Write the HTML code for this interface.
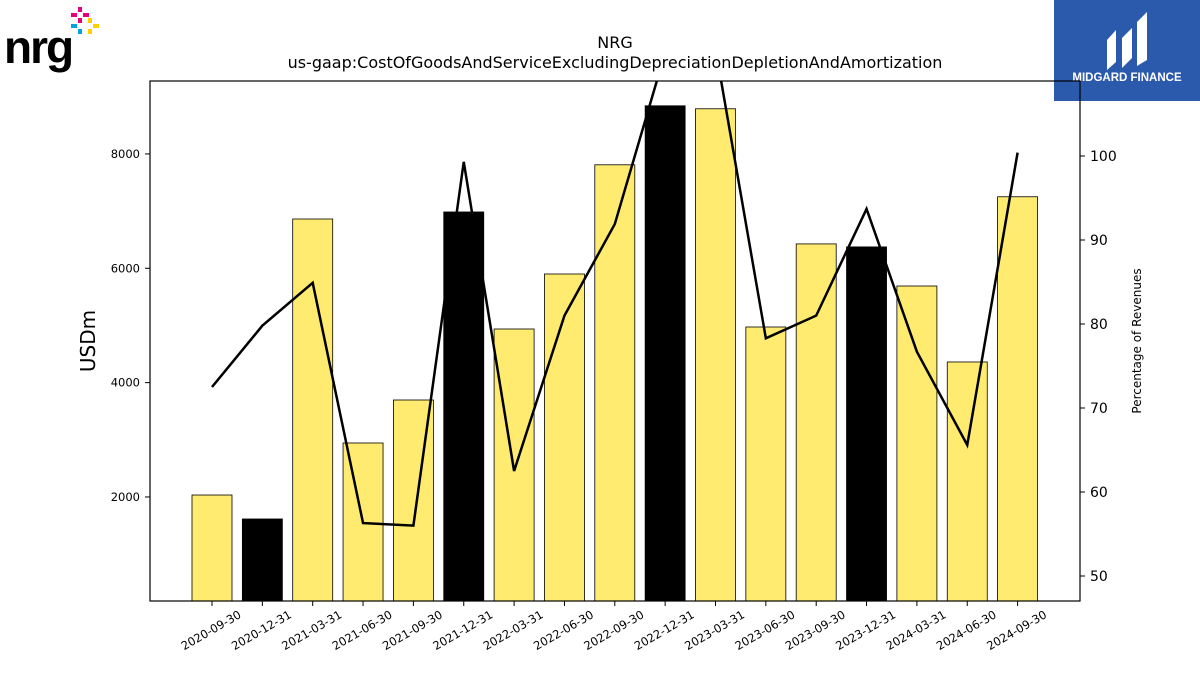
<!DOCTYPE html>
<html><head><meta charset="utf-8"><style>
body{margin:0;background:#fff;width:1200px;height:675px;overflow:hidden;font-family:"Liberation Sans","DejaVu Sans",sans-serif}
</style></head><body>
<svg id="chart" width="1200" height="675" xmlns="http://www.w3.org/2000/svg" font-family="DejaVu Sans, Liberation Sans, sans-serif">
<g>
<text x="4" y="63" font-size="46" font-weight="bold" fill="#000" font-family="Liberation Sans, sans-serif" letter-spacing="-2">nrg</text>
<rect x="78" y="7" width="4" height="5" fill="#e6007e"/><rect x="71" y="13" width="6" height="4" fill="#e6007e"/><rect x="83" y="13" width="6" height="4" fill="#e6007e"/>
<rect x="78" y="18" width="4" height="5" fill="#e6007e"/><rect x="71" y="24" width="6" height="4" fill="#00a3e0"/><rect x="78" y="29" width="4" height="5" fill="#00a3e0"/>
<rect x="88" y="18" width="4" height="5" fill="#ffd100"/><rect x="93" y="24" width="6" height="4" fill="#ffd100"/><rect x="88" y="29" width="4" height="5" fill="#ffd100"/>
</g>
<g>
<rect x="1054" y="0" width="146" height="101" fill="#2b5aad"/>
<path d="M1107 70 L1107 40 L1116 30 L1116 62 Z M1122 68 L1122 38 L1132 28 L1132 58 Z M1137 66 L1137 22 L1147 12 L1147 60 Z" fill="#fff"/>
<text x="1127" y="81" font-size="11.5" font-weight="bold" fill="#fff" text-anchor="middle" font-family="Liberation Sans, sans-serif">MIDGARD FINANCE</text>
</g>
<text x="615" y="48" font-size="16" text-anchor="middle">NRG</text>
<text x="615" y="68" font-size="16" text-anchor="middle">us-gaap:CostOfGoodsAndServiceExcludingDepreciationDepletionAndAmortization</text>
<g id="bars"></g><g id="xt"></g><g id="yl"></g><g id="yr"></g>
<defs><clipPath id="clip"><rect x="150" y="81" width="930" height="520"/></clipPath></defs>
<path id="line" fill="none" stroke="#000" stroke-width="2.5" clip-path="url(#clip)"/>
<rect x="150" y="81" width="930" height="520" fill="none" stroke="#000" stroke-width="1.2"/>
<text transform="translate(95,341) rotate(-90)" font-size="20" text-anchor="middle">USDm</text>
<text transform="translate(1141,341) rotate(-90)" font-size="12" text-anchor="middle">Percentage of Revenues</text>
</svg>
<script>
const categories=["2020-09-30","2020-12-31","2021-03-31","2021-06-30","2021-09-30","2021-12-31","2022-03-31","2022-06-30","2022-09-30","2022-12-31","2023-03-31","2023-06-30","2023-09-30","2023-12-31","2024-03-31","2024-06-30","2024-09-30"];
const costValues=[2034,1615,6862,2944,3696,6985,4938,5900,7810,8842,8790,4973,6426,6374,5690,4361,7251];
const pctValues=[72.5,79.8,84.9,56.3,56.0,99.3,62.5,81.0,91.9,112.3,112.8,78.3,81.0,93.7,76.7,65.6,100.4];
const leftTicks=[2000,4000,6000,8000];
const rightTicks=[50,60,70,80,90,100];
const NS="http://www.w3.org/2000/svg";
const x0=150,x1=1080,yT=81,yB=601;
const yL=v=>611.3-v*0.05717;
const yR=v=>156+(100-v)*8.4;
const step=(x1-x0)/(categories.length+1.5);
const xC=i=>212+i*50.35;
function mk(t,a,p){const e=document.createElementNS(NS,t);for(const k in a)e.setAttribute(k,a[k]);p.appendChild(e);return e;}
const bars=document.getElementById('bars'),xt=document.getElementById('xt'),ylg=document.getElementById('yl'),yrg=document.getElementById('yr');
categories.forEach((c,i)=>{
 const black=c.endsWith("12-31");
 const y=yL(costValues[i]);
 const r=mk('rect',{x:xC(i)-20,y:y,width:40,height:yB-y,fill:black?'#000':'#feeb6f',stroke:'#000','stroke-width':0.8},bars);
 
 
 mk('line',{x1:xC(i),x2:xC(i),y1:yB,y2:yB+5,stroke:'#000'},xt);
 const t=mk('text',{transform:`translate(${xC(i)+30},${yB+16}) rotate(-30)`,'font-size':11.5,'text-anchor':'end'},xt);
 t.textContent=c;
 
 
});
leftTicks.forEach(v=>{const y=yL(v);
 mk('line',{x1:x0-5,x2:x0,y1:y,y2:y,stroke:'#000'},ylg);
 const t=mk('text',{x:x0-10,y:y+4,'font-size':11.5,'text-anchor':'end'},ylg);t.textContent=v;
 
 });
rightTicks.forEach(v=>{const y=yR(v);
 mk('line',{x1:x1,x2:x1+5,y1:y,y2:y,stroke:'#000'},yrg);
 const t=mk('text',{x:x1+10,y:y+5,'font-size':14},yrg);t.textContent=v;
 
 });
document.getElementById('line').setAttribute('d',pctValues.map((v,i)=>(i?'L':'M')+xC(i)+' '+yR(v)).join(' '));
</script>
</body></html>
